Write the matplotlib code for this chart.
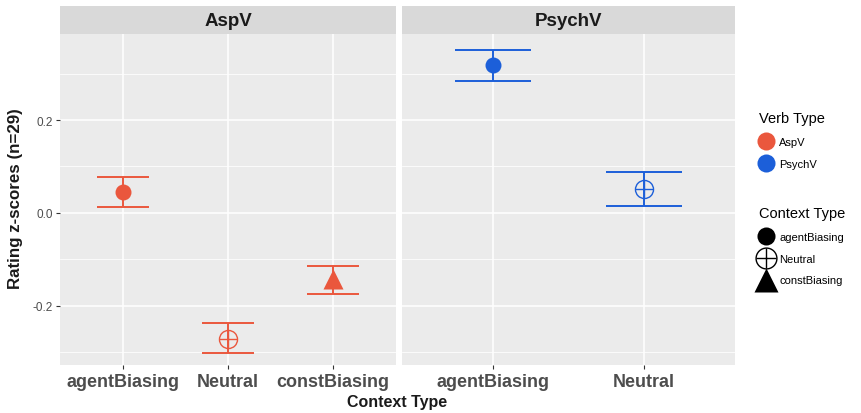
import numpy as np
import matplotlib.pyplot as plt
from matplotlib.lines import Line2D

plt.rcParams['font.family'] = ['Liberation Sans', 'DejaVu Sans']

# values
asp_contexts = ['agentBiasing', 'Neutral', 'constBiasing']
asp_mean = [0.045, -0.270, -0.142]
asp_low = [0.012, -0.302, -0.175]
asp_high = [0.077, -0.237, -0.114]

psych_contexts = ['agentBiasing', 'Neutral']
psych_mean = [0.318, 0.052]
psych_low = [0.284, 0.014]
psych_high = [0.351, 0.089]

verb_types = ['AspV', 'PsychV']
verb_colors = ['#EA573D', '#1C5FD9']
context_types = ['agentBiasing', 'Neutral', 'constBiasing']

y_major = [-0.2, 0.0, 0.2]
y_minor = [-0.3, -0.1, 0.1, 0.3]


def draw_marker(ax, x, y, context, color, ms_scale=1.0):
    if context == 'agentBiasing':
        ax.plot(x, y, 'o', color=color, ms=11.5 * ms_scale, mec='none', zorder=4)
    elif context == 'Neutral':
        ax.plot(x, y, 'o', mfc='none', mec=color, mew=1.0, ms=13 * ms_scale, zorder=4)
        ax.plot(x, y, '+', color=color, mew=1.0, ms=13 * ms_scale, zorder=4)
    else:
        ax.plot(x, y, '^', color=color, ms=14 * ms_scale, mec='none', zorder=4)


def draw_panel(ax, sax, title, contexts, mean, low, high, color, show_y):
    x = np.arange(1, len(contexts) + 1)
    ax.set_facecolor('#EBEBEB')
    ax.set_xlim(0.4, len(contexts) + 0.6)
    ax.set_ylim(-0.327, 0.385)
    ax.set_xticks(x)
    ax.set_xticklabels(contexts)
    ax.set_yticks(y_major)
    ax.set_yticks(y_minor, minor=True)
    ax.grid(which='major', color='white', lw=1.1)
    ax.grid(which='minor', axis='y', color='white', lw=0.55)
    ax.set_axisbelow(True)
    for s in ax.spines.values():
        s.set_visible(False)
    ax.tick_params(axis='x', length=3, color='#333333', labelsize=13, labelcolor='#4D4D4D', pad=3)
    for lab in ax.get_xticklabels():
        lab.set_fontweight('bold')
    ax.tick_params(axis='y', which='minor', length=0)
    if show_y:
        ax.set_yticklabels(['-0.2', '0.0', '0.2'])
        ax.tick_params(axis='y', length=3, color='#333333', labelsize=8.5, labelcolor='#4D4D4D', pad=2)
    else:
        ax.tick_params(axis='y', length=0, labelleft=False)

    # error bars, width 0.5 like geom_errorbar
    ax.vlines(x, low, high, color=color, lw=1.4, zorder=3)
    ax.hlines(low, x - 0.25, x + 0.25, color=color, lw=1.4, zorder=3)
    ax.hlines(high, x - 0.25, x + 0.25, color=color, lw=1.4, zorder=3)
    for xi, yi, c in zip(x, mean, contexts):
        draw_marker(ax, xi, yi, c, color)

    sax.set_facecolor('#D9D9D9')
    sax.set_xticks([])
    sax.set_yticks([])
    for s in sax.spines.values():
        s.set_visible(False)
    sax.text(0.5, 0.48, title, ha='center', va='center', fontsize=13.5,
             fontweight='bold', color='#1A1A1A', transform=sax.transAxes)


fig = plt.figure(figsize=(8.61, 4.14), dpi=100)
W, H = 861, 414

ax1 = fig.add_axes([60 / W, 1 - 366 / H, 336 / W, 331 / H])
ax2 = fig.add_axes([402 / W, 1 - 366 / H, 333 / W, 331 / H])
s1 = fig.add_axes([60 / W, 1 - 35 / H, 336 / W, 28 / H])
s2 = fig.add_axes([402 / W, 1 - 35 / H, 333 / W, 28 / H])

draw_panel(ax1, s1, 'AspV', asp_contexts, asp_mean, asp_low, asp_high, verb_colors[0], True)
draw_panel(ax2, s2, 'PsychV', psych_contexts, psych_mean, psych_low, psych_high, verb_colors[1], False)

fig.text(16 / W, 1 - 199 / H, 'Rating z-scores (n=29)', rotation=90, ha='center', va='center',
         fontsize=12.2, fontweight='bold', color='#1A1A1A')
fig.text(397 / W, 1 - 403 / H, 'Context Type', ha='center', va='center',
         fontsize=11.5, fontweight='bold', color='#1A1A1A')

# legends
leg_kw = dict(loc='upper left', frameon=False, fontsize=8, title_fontsize=10.5,
              alignment='left', handlelength=1.2, handletextpad=0.6, labelspacing=1.05,
              borderaxespad=0)
verb_handles = [Line2D([], [], ls='', marker='o', color=c, mec='none', ms=13) for c in verb_colors]
leg1 = fig.legend(verb_handles, verb_types, bbox_to_anchor=(755 / W, 1 - 108 / H),
                  title='Verb Type', **leg_kw)

ctx_handles = [
    Line2D([], [], ls='', marker='o', color='black', mec='none', ms=13),
    (Line2D([], [], ls='', marker='o', mfc='none', mec='black', mew=1.0, ms=15),
     Line2D([], [], ls='', marker='+', color='black', mew=1.0, ms=15)),
    Line2D([], [], ls='', marker='^', color='black', mec='none', ms=17),
]
leg2 = fig.legend(ctx_handles, context_types, bbox_to_anchor=(755 / W, 1 - 203 / H),
                  title='Context Type', **leg_kw)

fig.savefig('out.png', dpi=100)
